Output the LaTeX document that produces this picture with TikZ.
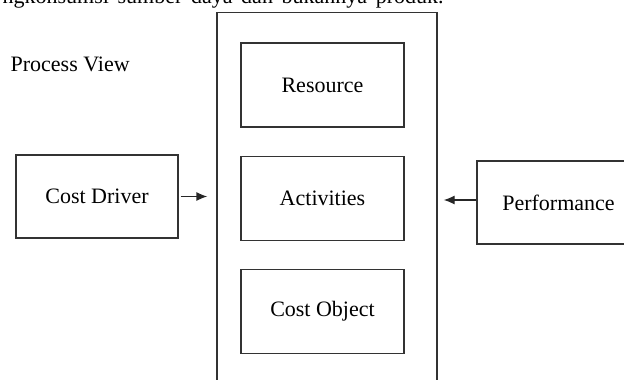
\documentclass[tikz,border=0pt]{standalone}
\usepackage{fontspec}
\setmainfont{Liberation Serif}
\usetikzlibrary{arrows.meta,positioning}

\begin{document}
\begin{tikzpicture}[
        x = 1pt, y = -1pt, % pixel-like units
        > = {Latex[length=11pt,width=9pt]}, % arrow head style
        node distance = 28pt, % gap between the inner boxes
        line width = 1.3pt,
        font = \fontsize{22}{26}\selectfont
    ]

    \tikzstyle{box}=[
        draw = black!80,
        fill = white,
        minimum width = 163pt,
        minimum height = 84pt
    ]

    \useasboundingbox (0,0) rectangle (624,380);
    \clip (0,0) rectangle (624,380);

    % cut-off line of text above the figure
    \node[anchor=base west, inner sep=0pt] (caption) at (2,3.5)
        {\hbox to 441pt{ngkonsumsi\hfill sumber\hfill daya\hfill dan\hfill bukannya\hfill produk.}};
    \node[anchor=base west, inner sep=0pt] (view) at (10,71) {Process View};

    \node[draw=black!80, minimum width=220pt, minimum height=400pt, anchor=north] (frame) at (327,12) {};
    \node[box] (resource) at (322.5,85) {Resource};
    \node[box] (activities) [below=of resource] {Activities};
    \node[box] (object) [below=of activities] {Cost Object};

    \node[box, minimum width=162pt, minimum height=83pt] (driver) at (97,196.5) {Cost Driver};
    \node[box, minimum height=83pt] (perf) at (558.5,202.5) {Performance};

    \draw[->, draw=black!85, shorten <=2pt, shorten >=9pt] (driver.east) -- (driver.east -| frame.west);
    \draw[->, draw=black!85, shorten >=6pt] ([yshift=2.5pt]perf.west) -- ([yshift=2.5pt]perf.west -| frame.east);
\end{tikzpicture}
\end{document}
